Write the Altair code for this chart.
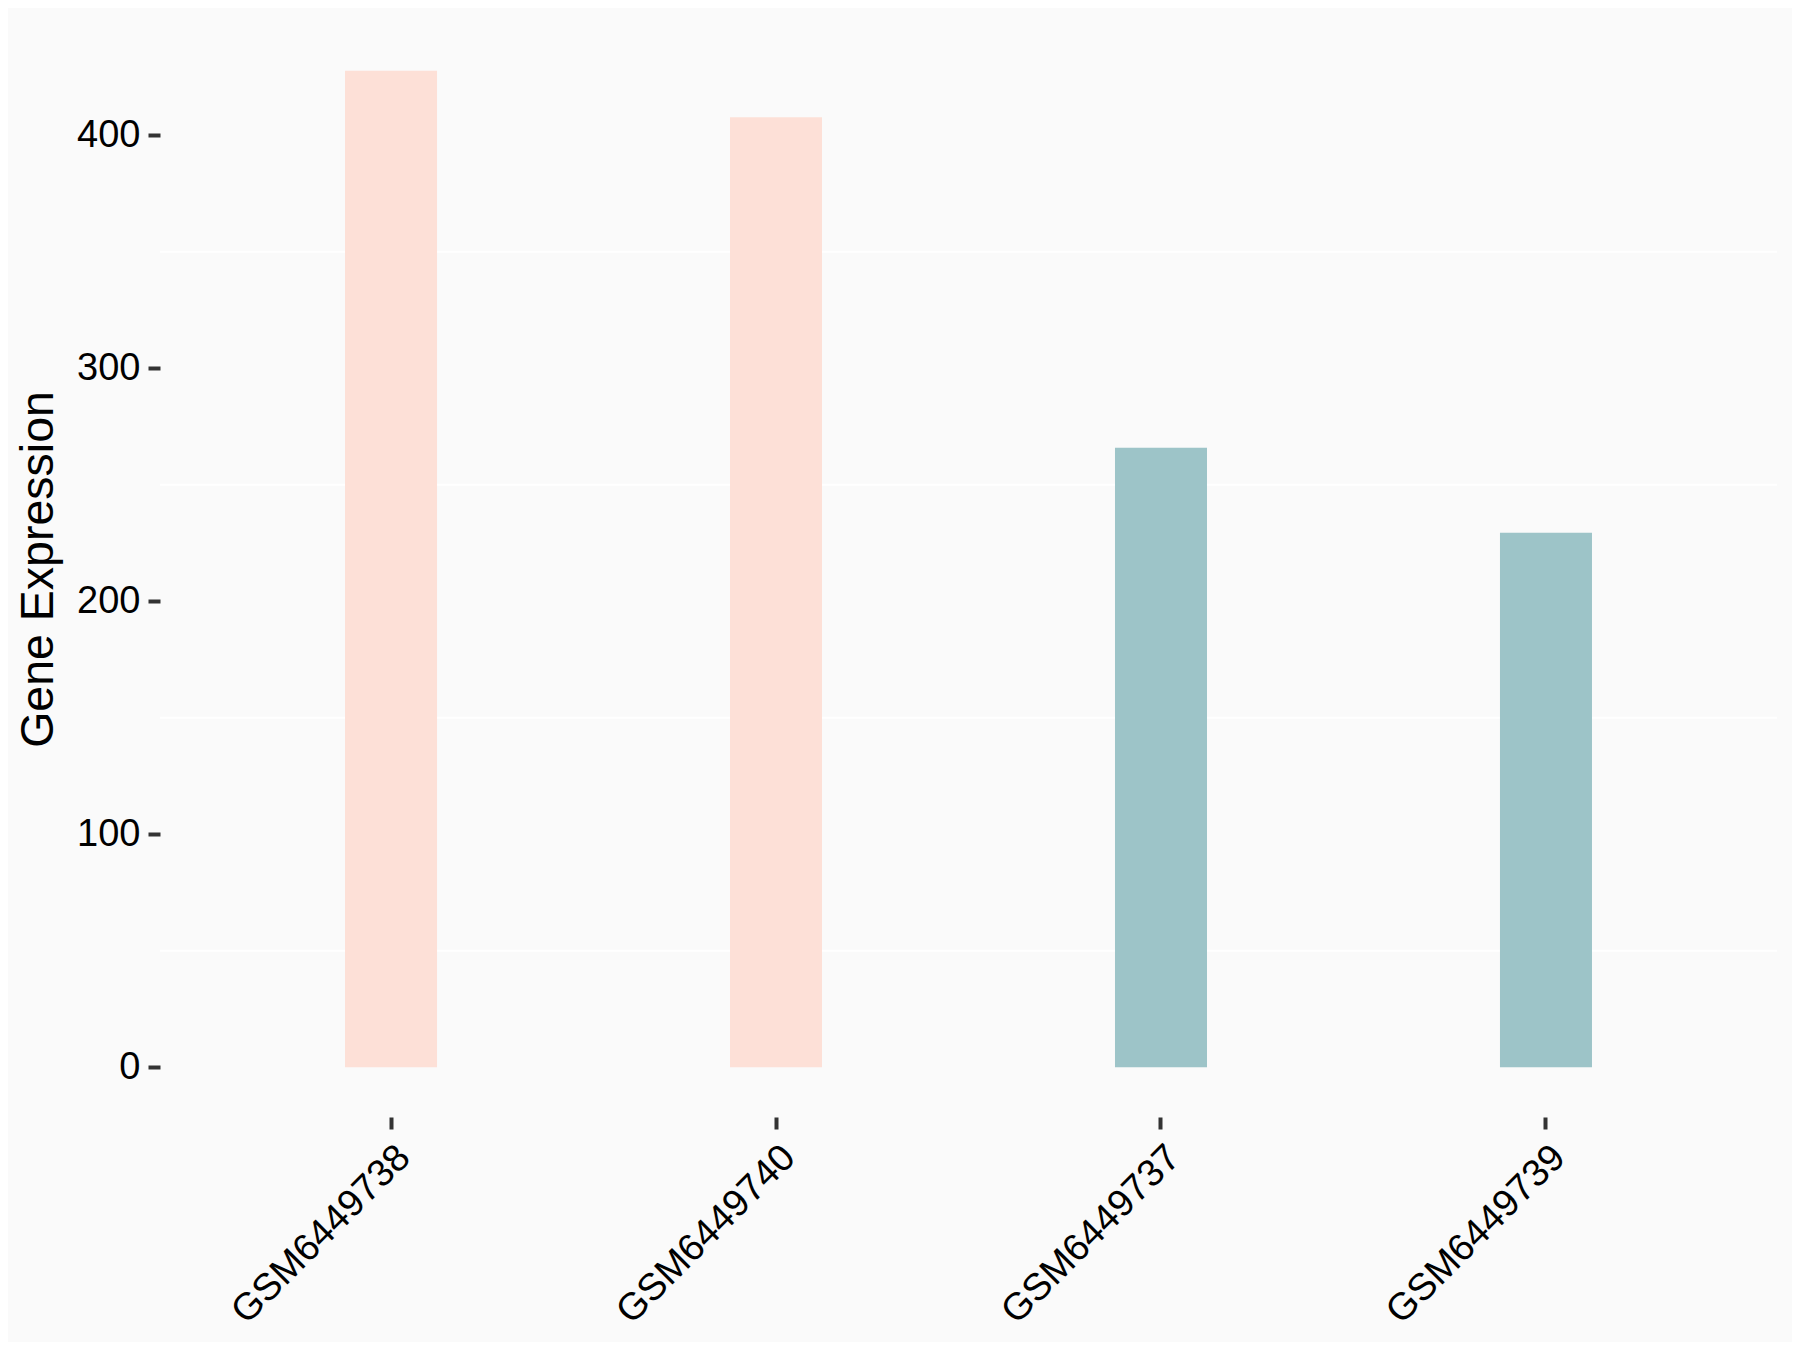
import altair as alt
import pandas as pd

samples = ["GSM6449738", "GSM6449740", "GSM6449737", "GSM6449739"]
expression = [427.7, 407.8, 265.9, 229.4]
groups = ["A", "A", "B", "B"]
group_domain = ["A", "B"]
group_colors = ["#FDE0D7", "#9DC4C8"]
minor_grid = [50, 150, 250, 350]
y_ticks = [0, 100, 200, 300, 400]

df = pd.DataFrame({"sample": samples, "expression": expression, "group": groups})
grid_df = pd.DataFrame({"g": minor_grid})

FONT = "Liberation Sans"
yscale = alt.Scale(domain=[-21.4, 449.1], nice=False, zero=False)

y_axis = alt.Axis(
    title="Gene Expression",
    values=y_ticks,
    titleFont=FONT,
    titleFontSize=46.5,
    titleFontWeight="normal",
    titleColor="#000000",
    titlePadding=14,
    labelFont=FONT,
    labelFontSize=38,
    labelColor="#000000",
    labelPadding=8,
    tickSize=12,
    tickWidth=4,
    tickColor="#333333",
    domain=False,
    grid=False,
)

grid = alt.Chart(grid_df).mark_rule(color="#FFFFFF", strokeWidth=2).encode(
    y=alt.Y("g:Q", scale=yscale, axis=y_axis, title="Gene Expression")
)

bars = alt.Chart(df).mark_bar().encode(
    x=alt.X(
        "sample:N",
        sort=samples,
        scale=alt.Scale(paddingInner=0.761, paddingOuter=0.4806),
        axis=alt.Axis(
            title=None,
            labelAngle=-45,
            labelAlign="right",
            labelBaseline="top",
            labelFont=FONT,
            labelFontSize=38,
            labelColor="#000000",
            labelPadding=9,
            labelLimit=0,
            tickSize=12,
            tickWidth=4,
            tickColor="#333333",
            domain=False,
            grid=False,
        ),
    ),
    y=alt.Y("expression:Q", scale=yscale, axis=y_axis, title="Gene Expression"),
    y2=alt.datum(0),
    color=alt.Color(
        "group:N",
        scale=alt.Scale(domain=group_domain, range=group_colors),
        legend=None,
    ),
)

chart = (
    alt.layer(grid, bars)
    .properties(
        width=1617,
        height=1096,
        background="#FAFAFA",
        autosize=alt.AutoSizeParams(type="none"),
        padding={"left": 152, "top": 13, "right": 15, "bottom": 225},
    )
    .configure_view(stroke=None)
)

chart.save("out.html", embed_options={"renderer": "svg", "actions": False})
